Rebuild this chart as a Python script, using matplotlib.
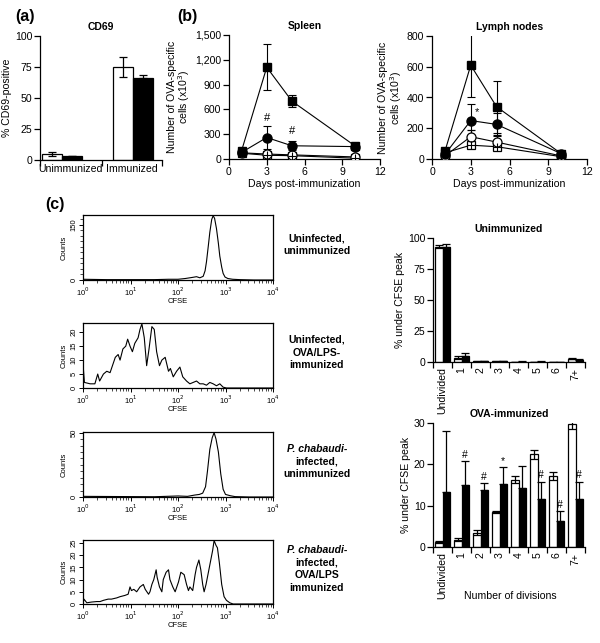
import numpy as np
import matplotlib
matplotlib.use("Agg")
import matplotlib.pyplot as plt
from matplotlib.ticker import AutoMinorLocator, FixedLocator, NullFormatter, LogLocator

plt.rcParams['font.family'] = ['Liberation Sans', 'DejaVu Sans']
plt.rcParams['axes.linewidth'] = 0.9
plt.rcParams['xtick.major.width'] = 0.9
plt.rcParams['ytick.major.width'] = 0.9

FS = 7.6  # tick / axis label size

# ---- panel (a): CD69 ----
cd69_groups = ["Unimmunized", "Immunized"]
cd69_white = [5, 75]
cd69_white_err = [1.5, 8]
cd69_black = [3, 66]
cd69_black_err = [0.5, 2.5]

# ---- panel (b): OVA-specific cells ----
days = [1, 3, 5, 10]
spleen_fsq = [100, 1110, 700, 160]
spleen_fsq_err = [25, 280, 70, 30]
spleen_fci = [80, 260, 160, 150]
spleen_fci_err = [20, 140, 55, 20]
spleen_oci = [75, 60, 50, 25]
spleen_oci_err = [10, 15, 10, 8]
spleen_osq = [70, 45, 40, 10]
spleen_osq_err = [10, 10, 10, 5]
spleen_marks = [(3, 440, "#"), (5, 280, "#")]

lymph_fsq = [50, 610, 340, 35]
lymph_fsq_err = [15, 210, 170, 10]
lymph_fci = [30, 250, 225, 35]
lymph_fci_err = [10, 110, 75, 10]
lymph_oci = [20, 145, 110, 20]
lymph_oci_err = [10, 45, 45, 8]
lymph_osq = [40, 90, 80, 15]
lymph_osq_err = [10, 15, 15, 5]
lymph_marks = [(3.5, 270, "*")]

# ---- panel (c): CFSE histograms (log10 CFSE, counts) ----
h1_log = [0.0, 0.5, 1.0, 1.5, 1.8, 2.0, 2.15, 2.3, 2.39, 2.46, 2.53, 2.57, 2.6, 2.64,
          2.67, 2.71, 2.74, 2.77, 2.81, 2.85, 2.88, 2.92, 2.95, 2.99, 3.05, 3.15, 3.3, 3.6, 4.0]
h1_cnt = [2, 1, 1, 1, 2, 2, 4, 7, 9, 6, 10, 25, 50, 95,
          130, 165, 175, 168, 140, 100, 65, 35, 18, 8, 4, 2, 1, 0, 0]

h2_log = [0.0, 0.01, 0.03, 0.15, 0.25, 0.31, 0.35, 0.43, 0.5, 0.57, 0.64, 0.68, 0.74, 0.78,
          0.84, 0.9, 0.94, 0.99, 1.04, 1.09, 1.16, 1.2, 1.24, 1.29, 1.34, 1.39, 1.45, 1.5,
          1.55, 1.61, 1.66, 1.73, 1.8, 1.84, 1.9, 1.97, 2.04, 2.1, 2.18, 2.25, 2.32, 2.39,
          2.46, 2.53, 2.6, 2.67, 2.74, 2.81, 2.88, 2.95, 3.02, 4.0]
h2_cnt = [0, 6.5, 2, 1.5, 1.5, 5, 2.5, 5, 6, 5.5, 9, 11, 12, 10,
          14, 15, 17.5, 15, 13, 16, 18, 21, 23, 18, 8, 14, 22, 21,
          13, 8, 10, 11, 6, 7, 4, 6, 7.5, 4, 2.5, 1.5, 2, 2.5,
          1.5, 1.5, 1, 2, 1.5, 0.8, 1.5, 0.3, 0, 0]

h3_log = [0.0, 1.0, 1.5, 2.0, 2.2, 2.35, 2.45, 2.52, 2.58, 2.62, 2.67, 2.72, 2.76, 2.8,
          2.85, 2.9, 2.95, 3.0, 3.1, 3.2, 3.5, 4.0]
h3_cnt = [0.5, 0.3, 0.2, 0.8, 0.5, 1.5, 2, 3, 8, 20, 37, 46, 50, 45,
          35, 18, 6, 2, 1, 0.3, 0, 0]

h4_log = [0.0, 0.02, 0.08, 0.18, 0.29, 0.36, 0.43, 0.53, 0.6, 0.71, 0.78, 0.88, 0.95, 0.99,
          1.02, 1.07, 1.13, 1.2, 1.27, 1.31, 1.38, 1.41, 1.45, 1.49, 1.54, 1.56, 1.61, 1.66,
          1.69, 1.75, 1.8, 1.83, 1.89, 1.94, 2.01, 2.06, 2.13, 2.18, 2.22, 2.25, 2.31, 2.36,
          2.39, 2.44, 2.48, 2.52, 2.55, 2.59, 2.64, 2.69, 2.73, 2.76, 2.8, 2.83, 2.87, 2.92,
          2.97, 3.02, 3.09, 3.16, 4.0]
h4_cnt = [0, 2, 0.5, 0.8, 1, 1, 1.5, 2, 2, 2.5, 3, 3.5, 4, 7,
          5.5, 6, 5, 7, 8, 6, 4, 5, 8, 10, 14, 11, 7, 5,
          10, 13, 14, 10, 7, 5, 9, 13, 12, 8, 5.5, 7, 5.5, 12,
          15, 18, 14, 8, 5, 8, 13, 18, 22, 26, 24, 23, 17, 8,
          3, 1.5, 0.5, 0, 0]

hist_labels = [["Uninfected,", "unimmunized"],
               ["Uninfected,", "OVA/LPS-", "immunized"],
               ["P. chabaudi-", "infected,", "unimmunized"],
               ["P. chabaudi-", "infected,", "OVA/LPS", "immunized"]]

# ---- panel (c): divisions ----
div_labels = ["Undivided", "1", "2", "3", "4", "5", "6", "7+"]
unimm_white = [93, 3.5, 0.6, 0.5, 0.3, 0.3, 0.2, 2.5]
unimm_white_err = [1, 1, 0.2, 0.1, 0.1, 0.1, 0.1, 0.4]
unimm_black = [92.5, 4.5, 0.8, 0.6, 0.4, 0.4, 0.2, 2.0]
unimm_black_err = [3, 2.5, 0.2, 0.1, 0.1, 0.1, 0.1, 0.3]
ova_white = [1.2, 1.8, 3.4, 8.4, 16.3, 22.4, 17.2, 29.7]
ova_white_err = [0.3, 0.4, 0.6, 0.2, 0.8, 1.1, 1.0, 1.2]
ova_black = [13.3, 15.0, 13.8, 15.2, 14.2, 11.7, 6.3, 11.5]
ova_black_err = [14.7, 5.8, 1.6, 4.1, 5.3, 4.1, 2.3, 4.3]
ova_marks = ["", "#", "#", "*", "", "#", "#", "#"]

W, H = 600, 643
fig = plt.figure(figsize=(6, 6.43), dpi=100)


def px_axes(l, t, r, b):
    return fig.add_axes([l / W, 1 - b / H, (r - l) / W, (b - t) / H])


def prism(ax):
    ax.spines['top'].set_visible(False)
    ax.spines['right'].set_visible(False)
    ax.tick_params(direction='out', length=4, labelsize=FS, pad=1.5)


def paired_bars(ax, x, white, werr, black, berr, width):
    x = np.asarray(x, dtype=float)
    ax.bar(x - width / 2, white, width, color='white', edgecolor='black', linewidth=0.9, zorder=2)
    ax.bar(x + width / 2, black, width, color='black', edgecolor='black', linewidth=0.9, zorder=2)
    ax.errorbar(x - width / 2, white, yerr=werr, fmt='none', ecolor='black',
                elinewidth=0.9, capsize=3, capthick=0.9, zorder=3)
    ax.errorbar(x + width / 2, black, yerr=[np.zeros(len(berr)), berr], fmt='none',
                ecolor='black', elinewidth=0.9, capsize=3, capthick=0.9, zorder=3)


# ================= (a) =================
ax = px_axes(40, 36, 162, 160)
prism(ax)
paired_bars(ax, [0, 1], cd69_white, cd69_white_err, cd69_black, cd69_black_err, 0.28)
ax.set_xlim(-0.31, 1.41)
ax.set_ylim(0, 100)
ax.set_yticks([0, 25, 50, 75, 100])
ax.set_xticks([0.125, 0.985])
ax.set_xticklabels(cd69_groups, fontsize=FS)
ax.tick_params(axis='x', length=0, pad=3)
ax.xaxis.set_minor_locator(FixedLocator([-0.31, 0.56, 1.41]))
ax.tick_params(axis='x', which='minor', direction='out', length=4, width=0.9)
ax.set_ylabel("% CD69-positive", fontsize=FS, labelpad=2)
ax.set_title("CD69", fontsize=7.5, fontweight='bold', pad=4)
fig.text(15 / W, 1 - 17 / H, "(a)", fontsize=11.5, fontweight='bold', va='center')


# ================= (b) =================
def time_course(ax, fsq, fsq_e, fci, fci_e, oci, oci_e, osq, osq_e):
    kw = dict(color='black', linewidth=0.8, capsize=3, elinewidth=0.8, capthick=0.8, zorder=3)
    ax.errorbar(days, osq, yerr=osq_e, fmt='-s', ms=6, mfc='white', mec='black', mew=0.9, **kw)
    ax.plot(days, osq, '+', ms=6, mew=0.8, color='black', zorder=4)
    ax.errorbar(days, oci, yerr=oci_e, fmt='-o', ms=6.5, mfc='white', mec='black', mew=0.9, **kw)
    ax.errorbar(days, fci, yerr=fci_e, fmt='-o', ms=6.5, mfc='black', mec='black', **kw)
    ax.errorbar(days, fsq, yerr=fsq_e, fmt='-s', ms=6, mfc='black', mec='black', **kw)
    ax.set_xlim(0, 12)
    ax.set_xticks([0, 3, 6, 9, 12])
    ax.set_xlabel("Days post-immunization", fontsize=FS, labelpad=2)
    ax.set_ylabel("Number of OVA-specific\ncells (x10$^3$)", fontsize=FS, labelpad=2,
                  linespacing=1.0)
    for s in ax.spines.values():
        s.set_clip_on(False)


ax = px_axes(229, 35, 380, 159)
prism(ax)
time_course(ax, spleen_fsq, spleen_fsq_err, spleen_fci, spleen_fci_err,
            spleen_oci, spleen_oci_err, spleen_osq, spleen_osq_err)
ax.set_ylim(0, 1500)
ax.set_yticks([0, 300, 600, 900, 1200, 1500])
ax.set_yticklabels(["0", "300", "600", "900", "1,200", "1,500"])
for xm, ym, s in spleen_marks:
    ax.text(xm, ym, s, ha='center', va='bottom', fontsize=8)
ax.set_title("Spleen", fontsize=7.5, fontweight='bold', pad=4)
fig.text(177 / W, 1 - 17 / H, "(b)", fontsize=11.5, fontweight='bold', va='center')

ax = px_axes(432, 36, 587, 159)
prism(ax)
time_course(ax, lymph_fsq, lymph_fsq_err, lymph_fci, lymph_fci_err,
            lymph_oci, lymph_oci_err, lymph_osq, lymph_osq_err)
ax.set_ylim(0, 800)
ax.set_yticks([0, 200, 400, 600, 800])
for xm, ym, s in lymph_marks:
    ax.text(xm, ym, s, ha='center', va='bottom', fontsize=8)
ax.set_title("Lymph nodes", fontsize=7.5, fontweight='bold', pad=4)

# ================= (c) histograms =================
fig.text(45 / W, 1 - 205 / H, "(c)", fontsize=11.5, fontweight='bold', va='center')
hists = [(h1_log, h1_cnt, 177, [0, 150], 215, 280),
         (h2_log, h2_cnt, 23.3, [0, 5, 10, 15, 20], 323, 388),
         (h3_log, h3_cnt, 50.5, [0, 50], 432, 497),
         (h4_log, h4_cnt, 26.2, [0, 5, 10, 15, 20, 25], 540, 604)]
for k, (lg, cnt, ytop, yt, t, b) in enumerate(hists):
    ax = px_axes(83, t, 273, b)
    ax.plot(10 ** np.asarray(lg), cnt, color='black', linewidth=0.8)
    ax.set_xscale('log')
    ax.set_xlim(1, 1e4)
    ax.set_ylim(0, ytop)
    ax.set_xticks([1, 10, 100, 1000, 10000])
    ax.set_xticklabels(["10$^0$", "10$^1$", "10$^2$", "10$^3$", "10$^4$"])
    ax.xaxis.set_minor_locator(LogLocator(base=10, subs=np.arange(2, 10)))
    ax.xaxis.set_minor_formatter(NullFormatter())
    ax.set_yticks(yt)
    if len(yt) == 2:
        ax.yaxis.set_minor_locator(AutoMinorLocator(10))
    ax.tick_params(direction='out', length=3, width=0.7, labelsize=5.5, pad=1)
    ax.tick_params(which='minor', direction='out', length=2, width=0.5)
    for lab in ax.get_yticklabels():
        lab.set_rotation(90)
        lab.set_va('center')
    ax.set_xlabel("CFSE", fontsize=5.5, labelpad=0)
    ax.set_ylabel("Counts", fontsize=5.5, labelpad=2)
    lines = hist_labels[k]
    yc = (t + b) / 2 - 3
    n = len(lines)
    for j, line in enumerate(lines):
        yy = yc + (j - (n - 1) / 2) * 12.5
        style = 'italic' if line.startswith("P. ") else 'normal'
        fig.text(317 / W, 1 - yy / H, line, ha='center', va='center', fontsize=7.5,
                 fontweight='bold', fontstyle=style)

# ================= (c) division bars =================
xs = np.arange(len(div_labels))


def division_axes(ax, white, werr, black, berr, ymax, yt, title):
    prism(ax)
    paired_bars(ax, xs, white, werr, black, berr, 0.4)
    ax.set_xlim(-0.5, 7.5)
    ax.set_ylim(0, ymax)
    ax.set_yticks(yt)
    ax.set_xticks(xs)
    ax.set_xticklabels(div_labels, rotation=90, fontsize=FS)
    ax.tick_params(axis='x', length=0, pad=4)
    ax.xaxis.set_minor_locator(FixedLocator(np.arange(-0.5, 8, 1.0)))
    ax.tick_params(axis='x', which='minor', direction='out', length=4, width=0.9)
    ax.set_ylabel("% under CFSE peak", fontsize=FS, labelpad=2)
    ax.set_title(title, fontsize=7.5, fontweight='bold', pad=4)


ax = px_axes(433, 238, 585, 362)
division_axes(ax, unimm_white, unimm_white_err, unimm_black, unimm_black_err,
              100, [0, 25, 50, 75, 100], "Unimmunized")

ax = px_axes(433, 423, 585, 547)
division_axes(ax, ova_white, ova_white_err, ova_black, ova_black_err,
              30, [0, 10, 20, 30], "OVA-immunized")
for i, s in enumerate(ova_marks):
    if s:
        ax.text(xs[i] + 0.2, ova_black[i] + ova_black_err[i] + 0.3, s,
                ha='center', va='bottom', fontsize=7.5)
fig.text(510 / W, 1 - 596 / H, "Number of divisions", ha='center', va='center', fontsize=FS)

fig.savefig("out.png", dpi=100)
